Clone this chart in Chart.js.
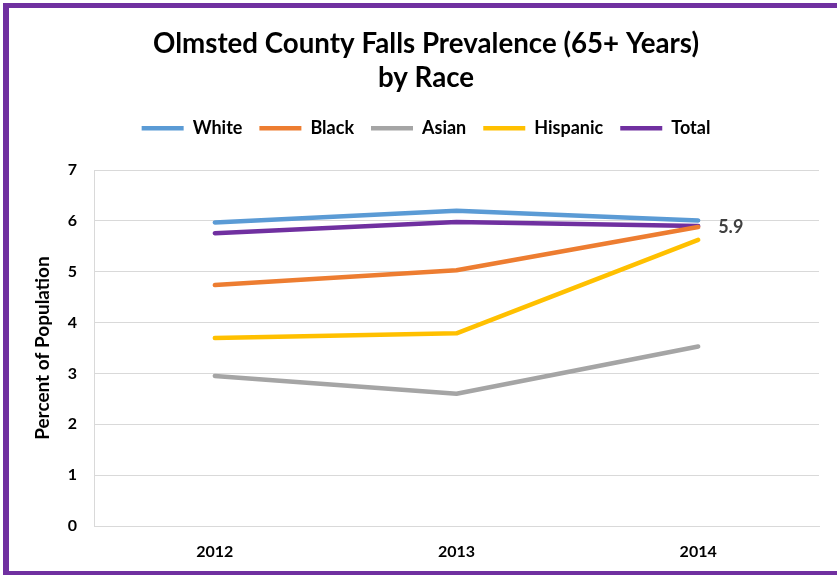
<!DOCTYPE html>
<html>
<head>
<meta charset="utf-8">
<script src="https://cdn.jsdelivr.net/npm/chart.js@4.4.1/dist/chart.umd.min.js"></script>
<style>
  html, body { margin: 0; padding: 0; background: #fff; overflow: hidden; }
  #frame {
    position: absolute; left: 3px; top: 3px;
    width: 900px; height: 563px;
    border-left: 6px solid #7030A0;
    border-top: 5px solid #7030A0;
    border-bottom: 4px solid #7030A0;
  }
  #wrap { position: relative; width: 828px; height: 563px; }
  #wrap canvas { display: block; }
</style>
</head>
<body>
<div id="frame"><div id="wrap"><canvas id="fallsChart"></canvas></div></div>
<script>
var years = ['2012', '2013', '2014'];
var white = [5.97, 6.2, 6.01];
var black = [4.74, 5.03, 5.88];
var asian = [2.95, 2.6, 3.53];
var hispanic = [3.7, 3.79, 5.63];
var total = [5.76, 5.98, 5.9];
var yTicks = [0, 1, 2, 3, 4, 5, 6, 7];

var fontFamily = 'Lato, "Open Sans", sans-serif';

function series(label, data, color) {
    return {
        label: label,
        data: data,
        borderColor: color,
        backgroundColor: color,
        borderWidth: 4.5,
        borderCapStyle: 'round',
        borderJoinStyle: 'round',
        pointRadius: 0,
        pointHoverRadius: 0,
        tension: 0,
        fill: false
    };
}

// value label next to the last Total point
var totalLabel = {
    id: 'totalLabel',
    afterDatasetsDraw: function(chart) {
        var meta = chart.getDatasetMeta(4);
        var pt = meta.data[meta.data.length - 1];
        var ctx = chart.ctx;
        ctx.save();
        ctx.font = 'bold 18px ' + fontFamily;
        ctx.fillStyle = '#404040';
        ctx.textAlign = 'left';
        ctx.textBaseline = 'middle';
        ctx.fillText(total[total.length - 1].toFixed(1), pt.x + 20, pt.y + 1);
        ctx.restore();
    }
};

// extra room between legend and plot
var legendGap = {
    id: 'legendGap',
    beforeInit: function(chart) {
        var fit = chart.legend.fit;
        chart.legend.fit = function() {
            fit.call(this);
            this.height += 23;
        };
    }
};

var ctx = document.getElementById('fallsChart');
var fallsChart = new Chart(ctx, {
    type: 'line',
    data: {
        labels: years,
        datasets: [
            series('White', white, '#5B9BD5'),
            series('Black', black, '#ED7D31'),
            series('Asian', asian, '#A5A5A5'),
            series('Hispanic', hispanic, '#FFC000'),
            series('Total', total, '#7030A0')
        ]
    },
    options: {
        responsive: true,
        maintainAspectRatio: false,
        animation: false,
        layout: { padding: { left: 24, right: 18, top: 0, bottom: 0 } },
        plugins: {
            title: {
                display: true,
                text: ['Olmsted County Falls Prevalence (65+ Years)', 'by Race'],
                color: '#000',
                font: { family: fontFamily, size: 27.7, weight: 'bold', lineHeight: 1.23 },
                padding: { top: 19, bottom: 7 }
            },
            legend: {
                position: 'top',
                labels: {
                    usePointStyle: true,
                    pointStyleWidth: 42,
                    pointStyle: 'line',
                    color: '#000',
                    padding: 17,
                    font: { family: fontFamily, size: 18, weight: 'bold' }
                }
            },
            tooltip: { enabled: false }
        },
        scales: {
            x: {
                offset: true,
                grid: { display: false, drawTicks: false },
                border: { display: true, color: '#d9d9d9' },
                ticks: {
                    color: '#000',
                    padding: 16,
                    font: { family: fontFamily, size: 16, weight: 'bold' }
                },
                afterFit: function(scale) { scale.height = 45; }
            },
            y: {
                min: 0,
                max: 7,
                afterBuildTicks: function(scale) {
                    scale.ticks = yTicks.map(function(v) { return { value: v }; });
                },
                grid: { color: '#d9d9d9', drawTicks: false },
                border: { display: true, color: '#d9d9d9' },
                ticks: {
                    color: '#000',
                    padding: 17,
                    font: { family: fontFamily, size: 16, weight: 'bold' }
                },
                title: {
                    display: true,
                    text: 'Percent of Population',
                    color: '#000',
                    padding: { top: -2, bottom: 0 },
                    font: { family: fontFamily, size: 19, weight: 'bold' }
                },
                afterFit: function(scale) { scale.width = 61; }
            }
        }
    },
    plugins: [totalLabel, legendGap]
});
</script>
</body>
</html>
